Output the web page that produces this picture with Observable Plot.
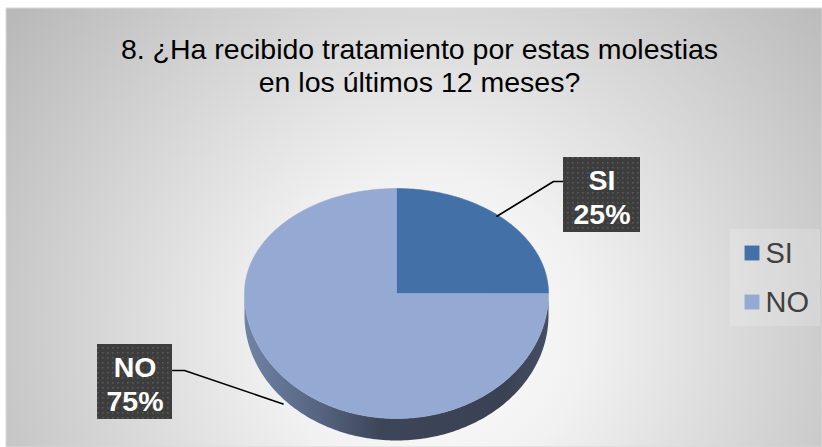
<!DOCTYPE html>
<html><head><meta charset="utf-8">
<script src="https://cdn.jsdelivr.net/npm/d3@7"></script>
<script src="https://cdn.jsdelivr.net/npm/@observablehq/plot@0.6"></script>
<style>
html,body{margin:0;padding:0;background:#fff;}
#chart svg{display:block;font-family:"Liberation Sans",Arial,Helvetica,sans-serif;}
</style>
</head><body><div id="chart"></div>
<script>
// ---- data ----
const categories = ["SI", "NO"];
const values = [25, 75];
const colors = ["#4371a7", "#94aad3"];
const percentLabels = ["25%", "75%"];
const titleLines = ["8. ¿Ha recibido tratamiento por estas molestias", "en los últimos 12 meses?"];

// ---- layout ----
const W = 822, H = 447;
const cx = 396, cy = 293, rx = 152, ryTop = 105, ryBot = 125, depth = 22;
function pt(a, dz = 0) {
  const s = Math.sin(a), c = Math.cos(a);
  return [cx + rx * s, cy - (c > 0 ? ryTop : ryBot) * c + dz];
}
const total = d3.sum(values);
let acc = 0;
const slices = categories.map((k, i) => {
  const a0 = acc / total * 2 * Math.PI; acc += values[i];
  const a1 = acc / total * 2 * Math.PI;
  return {k, a0, a1, v: values[i], label: k + "\n" + percentLabels[i]};
});
const STEP = Math.PI / 180;
const facePts = [];
slices.forEach(s => {
  facePts.push({k: s.k, x: cx, y: cy});
  const n = Math.max(2, Math.ceil((s.a1 - s.a0) / STEP));
  for (let j = 0; j <= n; j++) {
    const [x, y] = pt(s.a0 + (s.a1 - s.a0) * j / n);
    facePts.push({k: s.k, x, y});
  }
  facePts.push({k: s.k, x: cx, y: cy});
});
// side walls (front half only)
const sidePts = [];
slices.forEach(s => {
  const b0 = Math.max(s.a0, Math.PI / 2), b1 = Math.min(s.a1, 3 * Math.PI / 2);
  if (b1 <= b0) return;
  const n = Math.max(2, Math.ceil((b1 - b0) / STEP));
  for (let j = 0; j <= n; j++) { const [x, y] = pt(b0 + (b1 - b0) * j / n); sidePts.push({k: s.k, x, y}); }
  for (let j = n; j >= 0; j--) { const [x, y] = pt(b0 + (b1 - b0) * j / n, depth); sidePts.push({k: s.k, x, y}); }
});
// footprint shadow
const shadowPts = [];
for (let j = 0; j <= 360; j++) {
  const a = j * STEP; const c = Math.cos(a);
  const [x, y] = pt(a, c < 0 ? depth : 0);
  shadowPts.push({x: x + 5, y: y + 5});
}
// label boxes and leaders
const boxes = [
  {k: "SI", x1: 563, x2: 640, y1: 157, y2: 232},
  {k: "NO", x1: 97, x2: 172, y1: 344, y2: 419}
];
const labelData = slices.map((s, i) => ({...boxes[i], label: s.label, cxm: (boxes[i].x1 + boxes[i].x2) / 2, cym: (boxes[i].y1 + boxes[i].y2) / 2 + 1}));
const leaderPts = [];
{
  const s = slices[0], m = (s.a0 + s.a1) / 2, [ex, ey] = pt(m);
  leaderPts.push({k: "SI", x: 563, y: 181}, {k: "SI", x: 553, y: 181}, {k: "SI", x: ex - 7, y: ey - 3});
  const t = slices[1], m2 = (t.a0 + t.a1) / 2, [fx, fy] = pt(m2, depth - 2);
  leaderPts.push({k: "NO", x: 172, y: 370}, {k: "NO", x: 184, y: 370}, {k: "NO", x: fx - 6, y: fy + 2});
}
const legendData = categories.map((k, i) => ({k, x: 751.5, y: 252.5 + i * 49, tx: 765, ty: 262 + i * 49}));
const titleData = titleLines.map((t, i) => ({t, x: 419, y: 58 + i * 33}));

const chart = Plot.plot({
  width: W, height: H, margin: 0,
  x: {domain: [0, W], range: [0, W], axis: null},
  y: {domain: [0, H], range: [0, H], axis: null},
  color: {domain: categories, range: colors},
  style: {background: "transparent", overflow: "visible"},
  marks: [
    Plot.rect([{}], {x1: 6, x2: W, y1: 8, y2: H, fill: "url(#bgGrad)", stroke: "#d9d9d9", strokeWidth: 1}),
    Plot.rect([{}], {x1: 730, x2: 820, y1: 229, y2: 326, fill: "#ffffff", fillOpacity: 0.18}),
    Plot.text(titleData, {x: "x", y: "y", text: "t", fontSize: 28.5, fill: "#000", textAnchor: "middle", lineAnchor: "bottom"}),
    Plot.line(shadowPts, {x: "x", y: "y", fill: "#000", fillOpacity: 0.35, stroke: "none", curve: "linear-closed", ariaLabel: "pieshadow"}),
    Plot.line(sidePts, {x: "x", y: "y", z: "k", fill: "url(#sideGrad)", stroke: "none", curve: "linear-closed"}),
    Plot.line(facePts, {x: "x", y: "y", z: "k", fill: "k", stroke: "k", strokeWidth: 0.6, curve: "linear-closed"}),
    Plot.line(leaderPts, {x: "x", y: "y", z: "k", stroke: "#000", strokeWidth: 1.6}),
    Plot.rect(labelData, {x1: "x1", x2: "x2", y1: "y1", y2: "y2", fill: "url(#dots)", ariaLabel: "labelbox"}),
    Plot.text(labelData, {x: "cxm", y: "cym", text: "label", fill: "#fff", fontSize: 28.5, fontWeight: "bold", lineHeight: 1.2, textAnchor: "middle", lineAnchor: "middle"}),
    Plot.dot(legendData, {x: "x", y: "y", fill: "k", symbol: "square", r: 8.4, stroke: "none"}),
    Plot.text(legendData, {x: "tx", y: "ty", text: "k", fontSize: 29, fill: "#404040", textAnchor: "start", lineAnchor: "bottom"})
  ]
});

const svg = d3.select(chart);
const defs = svg.insert("defs", ":first-child");
const bg = defs.append("radialGradient").attr("id", "bgGrad").attr("gradientUnits", "userSpaceOnUse")
  .attr("cx", 430).attr("cy", 330).attr("r", 520);
bg.append("stop").attr("offset", 0).attr("stop-color", "#ffffff");
bg.append("stop").attr("offset", 0.3).attr("stop-color", "#f1f1f1");
bg.append("stop").attr("offset", 1).attr("stop-color", "#b9b9b9");
const sg = defs.append("linearGradient").attr("id", "sideGrad").attr("gradientUnits", "userSpaceOnUse")
  .attr("x1", cx - rx).attr("x2", cx + rx).attr("y1", 0).attr("y2", 0);
sg.append("stop").attr("offset", 0).attr("stop-color", "#6f83a6");
sg.append("stop").attr("offset", 0.25).attr("stop-color", "#55647f");
sg.append("stop").attr("offset", 0.45).attr("stop-color", "#3d4558");
sg.append("stop").attr("offset", 0.85).attr("stop-color", "#3a4153");
sg.append("stop").attr("offset", 1).attr("stop-color", "#454e63");
const pat = defs.append("pattern").attr("id", "dots").attr("patternUnits", "userSpaceOnUse").attr("width", 5).attr("height", 5);
pat.append("rect").attr("width", 5).attr("height", 5).attr("fill", "#3d3d3d");
pat.append("rect").attr("x", 2).attr("y", 2).attr("width", 1.6).attr("height", 1.6).attr("fill", "#585858");
const blur = defs.append("filter").attr("id", "softShadow").attr("x", "-20%").attr("y", "-20%").attr("width", "140%").attr("height", "140%");
blur.append("feGaussianBlur").attr("stdDeviation", 6);
const drop = defs.append("filter").attr("id", "boxShadow").attr("x", "-20%").attr("y", "-20%").attr("width", "150%").attr("height", "150%");
drop.append("feDropShadow").attr("dx", 3).attr("dy", 3).attr("stdDeviation", 2).attr("flood-color", "#000").attr("flood-opacity", 0.45);
svg.selectAll('g[aria-label="pieshadow"]').attr("filter", "url(#softShadow)");
svg.selectAll('g[aria-label="labelbox"]').attr("filter", "url(#boxShadow)");

document.getElementById("chart").appendChild(chart);
</script>
</body></html>
